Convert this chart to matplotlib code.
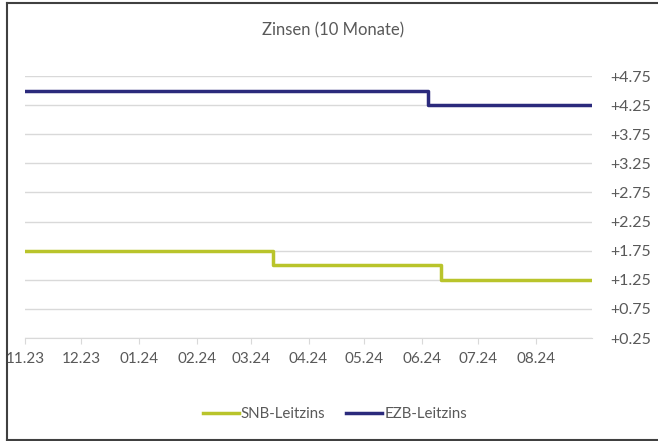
import matplotlib
matplotlib.use("Agg")
import matplotlib.pyplot as plt
from matplotlib.lines import Line2D
import pandas as pd

# Data
title = "Zinsen (10 Monate)"
snb_dates = ["2023-11-01", "2024-03-13", "2024-06-11", "2024-08-31"]
snb_values = [1.75, 1.50, 1.25, 1.25]
ezb_dates = ["2023-11-01", "2024-06-04", "2024-08-31"]
ezb_values = [4.50, 4.25, 4.25]
month_ticks = ["2023-11-01", "2023-12-01", "2024-01-01", "2024-02-01", "2024-03-01",
               "2024-04-01", "2024-05-01", "2024-06-01", "2024-07-01", "2024-08-01"]
month_labels = ["11.23", "12.23", "01.24", "02.24", "03.24", "04.24", "05.24", "06.24", "07.24", "08.24"]
y_ticks = [0.25, 0.75, 1.25, 1.75, 2.25, 2.75, 3.25, 3.75, 4.25, 4.75]
y_labels = ["+0.25", "+0.75", "+1.25", "+1.75", "+2.25", "+2.75", "+3.25", "+3.75", "+4.25", "+4.75"]

plt.rcParams['font.family'] = ['Lato', 'DejaVu Sans']
txt = '#595959'
grid = '#d9d9d9'
snb_c = '#B9C42B'
ezb_c = '#2B2A7C'

fig = plt.figure(figsize=(6.58, 4.41), dpi=100)
ax = fig.add_axes([25/658, 1-338/441, (592-25)/658, (338-76)/441])

ax.step(pd.to_datetime(snb_dates), snb_values, where='post', color=snb_c, lw=2.5, label='SNB-Leitzins')
ax.step(pd.to_datetime(ezb_dates), ezb_values, where='post', color=ezb_c, lw=2.5, label='EZB-Leitzins')

ax.set_xlim(pd.Timestamp("2023-11-01"), pd.Timestamp("2024-08-31"))
ax.set_ylim(0.25, 4.75)
ax.set_xticks(pd.to_datetime(month_ticks))
ax.set_xticklabels(month_labels)
ax.set_yticks(y_ticks)
ax.set_yticklabels(y_labels)
ax.yaxis.tick_right()
ax.tick_params(axis='y', length=0, pad=13, labelsize=11.5, labelcolor=txt)
ax.tick_params(axis='x', length=4, color=grid, pad=6, labelsize=11, labelcolor=txt)
for lab in ax.get_yticklabels():
    lab.set_horizontalalignment('left')
ax.grid(axis='y', color=grid, lw=1)
ax.set_axisbelow(True)
for s in ['top', 'right', 'left']:
    ax.spines[s].set_visible(False)
ax.spines['bottom'].set_color(grid)

fig.text(333/658, 1-30/441, title, ha='center', va='center', fontsize=12, color=txt)

leg = fig.legend(loc='center', bbox_to_anchor=(335/658, 1-414/441), ncol=2, frameon=False,
                 handlelength=2.4, handletextpad=0.15, columnspacing=1.4, fontsize=10.8)
for t in leg.get_texts():
    t.set_color(txt)

# frame
fc = '#404040'
fig.add_artist(Line2D([7/658, 7/658], [0, 1-3/441], transform=fig.transFigure, color=fc, lw=1.5))
fig.add_artist(Line2D([7/658, 1], [1-3/441, 1-3/441], transform=fig.transFigure, color=fc, lw=1.5))
fig.add_artist(Line2D([7/658, 1], [1-440/441, 1-440/441], transform=fig.transFigure, color=fc, lw=1.5))

fig.savefig("out.png", dpi=100)
